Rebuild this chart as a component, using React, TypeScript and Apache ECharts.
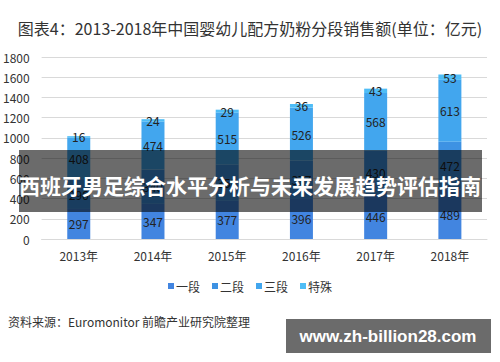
import React, { useEffect, useRef } from "react";
import * as echarts from "echarts";

const categories = ["2013年", "2014年", "2015年", "2016年", "2017年", "2018年"];
const seriesNames = ["一段", "二段", "三段", "特殊"];
const stage1 = [297, 347, 377, 396, 446, 489];
const stage2 = [296, 340, 358, 377, 430, 472];
const stage3 = [408, 474, 515, 526, 568, 613];
const special = [16, 24, 29, 36, 43, 53];
const yTicks = { min: 0, max: 1800, interval: 200 };
const colors = ["#4285E0", "#3D92E3", "#42A6EE", "#4FBDF6"];

const titleText = "图表4：2013-2018年中国婴幼儿配方奶粉分段销售额(单位：亿元)";
const sourceText = "资料来源：Euromonitor 前瞻产业研究院整理";
const bannerText = "西班牙男足综合水平分析与未来发展趋势评估指南";
const siteText = "www.zh-billion28.com";

const FONT = "'Noto Sans CJK SC', 'Noto Sans', sans-serif";

export default function App() {
  const ref = useRef<HTMLDivElement>(null);
  useEffect(() => {
    if (!ref.current) return;
    const chart = echarts.init(ref.current, undefined, { renderer: "svg" });
    const data = [stage1, stage2, stage3, special];
    chart.setOption({
      animation: false,
      backgroundColor: "#ffffff",
      textStyle: { fontFamily: FONT },
      title: {
        text: titleText,
        left: "center",
        top: 15,
        textStyle: { fontSize: 16, fontWeight: "normal", color: "#333", fontFamily: FONT },
      },
      legend: {
        data: seriesNames,
        top: 275,
        left: "center",
        icon: "rect",
        itemWidth: 6,
        itemHeight: 6,
        itemGap: 12,
        textStyle: { fontSize: 12, color: "#333", padding: [0, 0, 0, -3] },
      },
      grid: { left: 40, right: 13, top: 57, bottom: 123 },
      xAxis: {
        type: "category",
        data: categories,
        axisLine: { lineStyle: { color: "#d9d9d9" } },
        axisTick: { show: false },
        axisLabel: { color: "#333", fontSize: 12, margin: 10 },
      },
      yAxis: {
        type: "value",
        min: yTicks.min,
        max: yTicks.max,
        interval: yTicks.interval,
        axisLine: { show: false },
        axisTick: { show: false },
        axisLabel: { color: "#333", fontSize: 12, margin: 12, formatter: (v: number) => String(v) },
        splitLine: { lineStyle: { color: "#d9d9d9" } },
      },
      series: seriesNames.map((name, i) => ({
        name,
        type: "bar",
        stack: "total",
        barWidth: 23,
        data: data[i],
        itemStyle: { color: colors[i] },
        label: {
          show: true,
          position: "inside",
          color: "#222",
          fontSize: 12,
        },
      })),
      graphic: [
        {
          type: "rect",
          z: 100,
          shape: { x: 19, y: 150, width: 463, height: 62 },
          style: { fill: "rgba(0,0,0,0.58)" },
        },
        {
          type: "text",
          z: 101,
          x: 250,
          y: 185,
          style: {
            text: bannerText,
            fill: "#ffffff",
            font: `bold 21px ${FONT}`,
            align: "center",
            verticalAlign: "middle",
          },
        },
        {
          type: "text",
          z: 101,
          x: 8,
          y: 321,
          style: {
            text: sourceText,
            fill: "#333",
            font: `12px ${FONT}`,
            align: "left",
            verticalAlign: "middle",
          },
        },
        {
          type: "rect",
          z: 100,
          shape: { x: 286, y: 319, width: 205, height: 34 },
          style: { fill: "#6b6b6b" },
        },
        {
          type: "text",
          z: 101,
          x: 388,
          y: 336,
          style: {
            text: siteText,
            fill: "#ffffff",
            font: `bold 17px 'Liberation Sans', Arial, sans-serif`,
            align: "center",
            verticalAlign: "middle",
          },
        },
      ],
    });
    return () => chart.dispose();
  }, []);
  return (
    <div
      ref={ref}
      style={{ position: "absolute", left: 0, top: 0, width: 500, height: 362 }}
    />
  );
}
